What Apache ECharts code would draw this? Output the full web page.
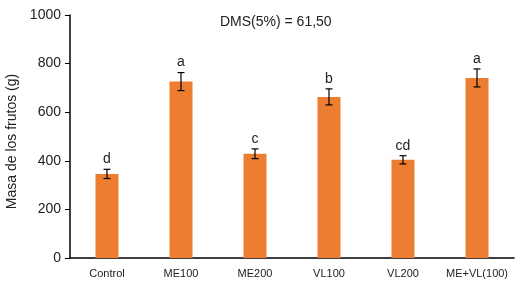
<!DOCTYPE html>
<html>
<head>
<meta charset="utf-8">
<script src="https://cdn.jsdelivr.net/npm/echarts@6/dist/echarts.min.js"></script>
<style>
  html, body { margin: 0; padding: 0; background: #fff; }
  #chart { width: 520px; height: 286px; }
</style>
</head>
<body>
<div id="chart"></div>
<script>
// datos del gráfico
var categories = ['Control', 'ME100', 'ME200', 'VL100', 'VL200', 'ME+VL(100)']
var masaFrutos = [346, 726, 429, 663, 404, 741]
var errores = [19, 37, 20, 33, 17, 37]
var letras = ['d', 'a', 'c', 'b', 'cd', 'a']
var yTicks = [0, 200, 400, 600, 800, 1000]

var chart = echarts.init(document.getElementById('chart'))

var errorData = masaFrutos.map(function (v, i) {
  return [i, v - errores[i], v + errores[i]]
})

chart.setOption({
  animation: false,
  textStyle: { fontFamily: 'Liberation Sans, Arial, sans-serif' },
  title: {
    text: 'DMS(5%) = 61,50',
    left: 215,
    top: 10,
    textStyle: { fontSize: 14, fontWeight: 'normal', color: '#222' }
  },
  grid: { left: 70, right: 6, top: 15, bottom: 28, outerBoundsMode: 'none', containLabel: false },
  xAxis: {
    type: 'category',
    data: categories,
    axisLine: { lineStyle: { color: '#000', width: 1.5 } },
    axisTick: { show: false },
    axisLabel: { color: '#222', fontSize: 11, margin: 10, interval: 0 }
  },
  yAxis: {
    type: 'value',
    min: yTicks[0],
    max: yTicks[yTicks.length - 1],
    interval: 200,
    name: 'Masa de los frutos (g)',
    nameLocation: 'middle',
    nameGap: 50,
    nameTextStyle: { color: '#222', fontSize: 14, padding: [0, 10, 0, 0] },
    axisLine: { show: true, lineStyle: { color: '#000', width: 1.5 } },
    axisTick: { show: true, length: 5, lineStyle: { color: '#000' } },
    axisLabel: {
      color: '#222', fontSize: 14, margin: 9,
      formatter: function (v) { return String(v) }
    },
    splitLine: { show: false }
  },
  series: [
    {
      type: 'bar',
      data: masaFrutos,
      barWidth: 23,
      itemStyle: { color: '#ED7D31' }
    },
    {
      type: 'custom',
      data: errorData,
      z: 10,
      renderItem: function (params, api) {
        var x = api.value(0)
        var lo = api.coord([x, api.value(1)])
        var hi = api.coord([x, api.value(2)])
        var cap = 3.5
        var st = { stroke: '#000', lineWidth: 1.2 }
        return {
          type: 'group',
          children: [
            { type: 'line', shape: { x1: hi[0], y1: hi[1], x2: lo[0], y2: lo[1] }, style: st },
            { type: 'line', shape: { x1: hi[0] - cap, y1: hi[1], x2: hi[0] + cap, y2: hi[1] }, style: st },
            { type: 'line', shape: { x1: lo[0] - cap, y1: lo[1], x2: lo[0] + cap, y2: lo[1] }, style: st },
            {
              type: 'text',
              style: {
                text: letras[params.dataIndex],
                x: hi[0],
                y: hi[1] - 3,
                align: 'center',
                verticalAlign: 'bottom',
                fontSize: 14,
                fontFamily: 'Liberation Sans, Arial, sans-serif',
                fill: '#222'
              }
            }
          ]
        }
      }
    }
  ]
})
</script>
</body>
</html>
